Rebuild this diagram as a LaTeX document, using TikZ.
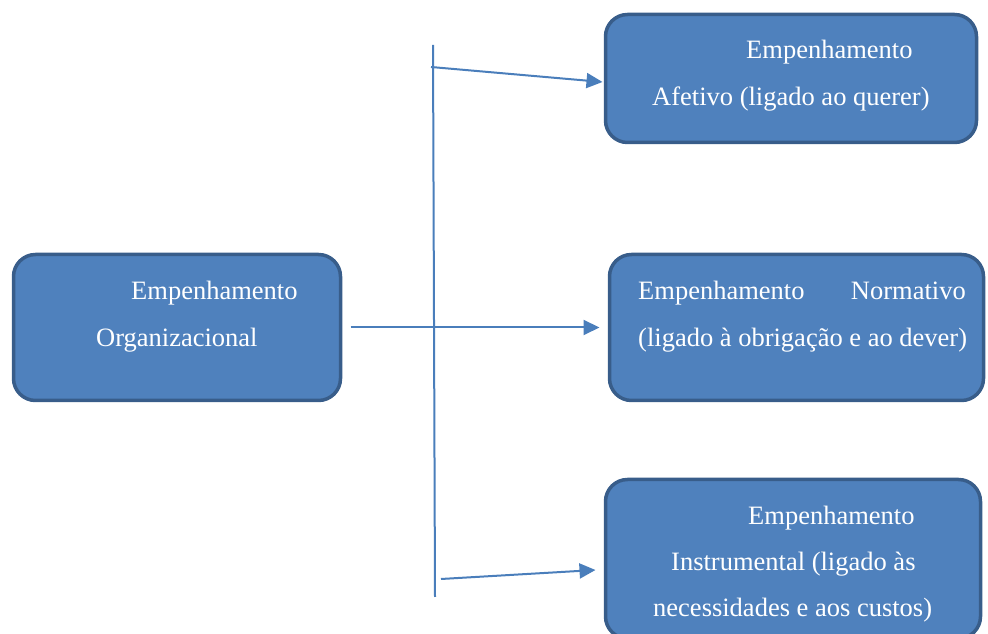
\documentclass[tikz,border=0pt]{standalone}
\usepackage{fontspec}
\setmainfont{Liberation Serif}
\usetikzlibrary{arrows.meta}
\definecolor{boxfill}{HTML}{4F81BD}
\definecolor{boxline}{HTML}{385D8A}
\definecolor{conn}{HTML}{4A7EBB}
\tikzset{
  box/.style={draw=boxline, fill=boxfill, line width=3.5pt, rounded corners=22pt, inner sep=0pt, outer sep=0pt},
  txt/.style={text=white, font=\fontsize{26.5}{32}\selectfont, inner sep=0pt, anchor=base west},
  conline/.style={draw=conn, line width=2pt},
  arr/.style={conline, -{Triangle[length=16pt,width=15pt]}}
}
\begin{document}
\begin{tikzpicture}[x=1pt,y=1pt]
\useasboundingbox (0,0) rectangle (988,634);
% boxes
\node[box, minimum width=327pt, minimum height=146pt] (org) at (177,306.5) {};
\node[box, minimum width=371pt, minimum height=128pt] (afe) at (791,555.5) {};
\node[box, minimum width=374pt, minimum height=146pt] (nor) at (796.5,306.5) {};
\node[box, minimum width=375pt, minimum height=159pt] (ins) at (793,75) {};
% texts
\node[txt] (org1) at (131,334.5) {Empenhamento};
\node[txt] (org2) at (96,287.5) {Organizacional};
\node[txt] (afe1) at (746,575.5) {Empenhamento};
\node[txt] (afe2) at (652,528.5) {Afetivo (ligado ao querer)};
\node[txt] (nor1) at (638,334.5) {Empenhamento};
\node[txt, anchor=base east] (nor2) at (966,334.5) {Normativo};
\node[txt] (nor3) at (638,287.5) {(ligado à obrigação e ao dever)};
\node[txt] (ins1) at (748,109.5) {Empenhamento};
\node[txt] (ins2) at (671,63.5) {Instrumental (ligado às};
\node[txt] (ins3) at (653,17.5) {necessidades e aos custos)};
% connectors
\coordinate (vtop) at (433,589);
\coordinate (vbot) at (435,37);
\coordinate (a1s) at (431,567);
\coordinate (a3s) at (441,55);
\draw[conline] (vtop) -- (vbot);
\draw[arr] (a1s) -- ([xshift=-3pt,yshift=-3.5pt]afe.west);
\draw[arr] ([xshift=10pt]org.east) -- ([xshift=-10pt]nor.west);
\draw[arr] (a3s) -- ([xshift=-10pt,yshift=-11pt]ins.west);
\end{tikzpicture}
\end{document}
